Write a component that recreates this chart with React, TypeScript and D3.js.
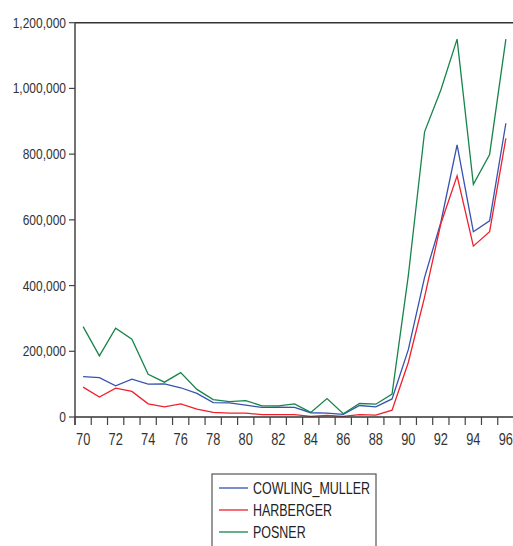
import React from "react";
import * as d3 from "d3";

const years = [70,71,72,73,74,75,76,77,78,79,80,81,82,83,84,85,86,87,88,89,90,91,92,93,94,95,96];
const cowlingMuller = [123000,120000,95000,115000,100000,101000,89000,72000,44000,43000,36000,29000,30000,29000,13000,12000,8000,35000,31000,55000,205000,425000,592000,828000,564000,597000,894000];
const harberger = [91000,61000,88000,78000,40000,31000,40000,24000,14000,12000,12000,7000,7000,7000,2000,5000,2000,7000,6000,21000,166000,365000,588000,734000,520000,564000,848000];
const posner = [275000,186000,270000,237000,130000,106000,135000,84000,53000,47000,50000,34000,34000,40000,14000,56000,10000,41000,39000,70000,430000,868000,995000,1150000,708000,799000,1150000];
const seriesNames = ["COWLING_MULLER", "HARBERGER", "POSNER"];
const seriesColors = ["#3553b0", "#f0202c", "#17854a"];
const yTicks = [0,200000,400000,600000,800000,1000000,1200000];
const xLabels = [70,72,74,76,78,80,82,84,86,88,90,92,94,96];

export default function App() {
  const W = 513, H = 546;
  const left = 75, top = 22.7, bottom = 417;
  const x = d3.scaleLinear().domain([69.5, 96.5]).range([left, 514]);
  const y = d3.scaleLinear().domain([0, 1200000]).range([bottom, top]);
  const data = [cowlingMuller, harberger, posner];
  const line = d3.line<number>().x((_, i) => x(years[i])).y((d) => y(d));
  const fmt = d3.format(",");
  const font = "'Liberation Sans', Arial, sans-serif";
  const sx = 0.8;
  const tickYears = d3.range(69.5, 97, 1);
  return (
    <div style={{ position: "fixed", left: 0, top: 0 }}>
      <svg width={W} height={H} style={{ display: "block", background: "#fff" }}>
        {data.map((s, i) => (
          <path key={i} d={line(s) || ""} fill="none" stroke={seriesColors[i]} strokeWidth={1.3} strokeLinejoin="miter" />
        ))}
        <line x1={left} x2={W} y1={top} y2={top} stroke="#333" strokeWidth={1.6} />
        <line x1={left} x2={left} y1={top} y2={bottom + 8} stroke="#444" strokeWidth={1.5} />
        <line x1={left} x2={W} y1={bottom} y2={bottom} stroke="#333" strokeWidth={1.6} />
        {yTicks.map((t) => (
          <g key={t}>
            <line x1={left - 6} x2={left} y1={y(t)} y2={y(t)} stroke="#444" strokeWidth={1.2} />
            <g transform={`translate(${left - 9},${y(t) + 5}) scale(${sx},1)`}>
              <text x={0} y={0} textAnchor="end" fontFamily={font} fontSize={15} fill="#333">{fmt(t)}</text>
            </g>
          </g>
        ))}
        {tickYears.map((t) => (
          <line key={t} x1={x(t)} x2={x(t)} y1={bottom} y2={bottom + 8} stroke="#444" strokeWidth={1.2} />
        ))}
        {xLabels.map((t) => (
          <g key={t} transform={`translate(${x(t)},445) scale(${sx},1)`}>
            <text x={0} y={0} textAnchor="middle" fontFamily={font} fontSize={16} fill="#333">{t}</text>
          </g>
        ))}
        <rect x={212} y={474} width={164} height={90} fill="#fff" stroke="#555" strokeWidth={1.2} />
        {seriesNames.map((n, i) => (
          <g key={n}>
            <line x1={219} x2={248} y1={488 + i * 22} y2={488 + i * 22} stroke={seriesColors[i]} strokeWidth={1.3} />
            <g transform={`translate(253,${494 + i * 22}) scale(0.78,1)`}>
              <text x={0} y={0} fontFamily={font} fontSize={16} fill="#222">{n}</text>
            </g>
          </g>
        ))}
      </svg>
    </div>
  );
}
